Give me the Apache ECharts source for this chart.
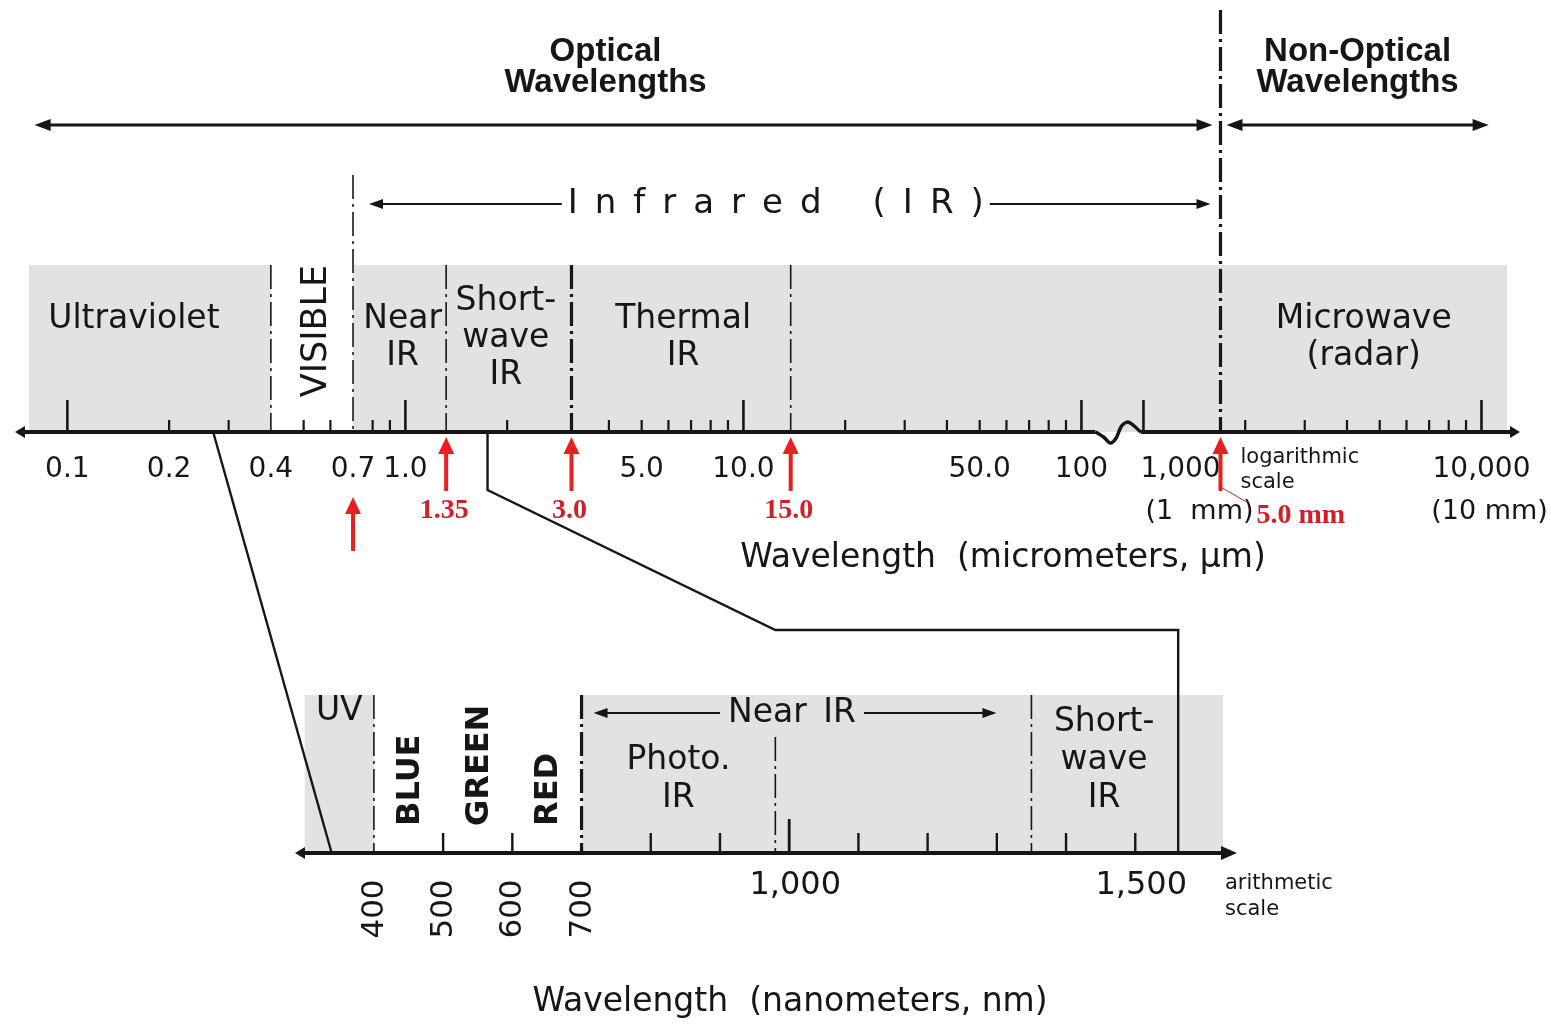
<!DOCTYPE html>
<html>
<head>
<meta charset="utf-8">
<title>Optical and non-optical wavelengths</title>
<script src="https://cdn.jsdelivr.net/npm/echarts@6/dist/echarts.min.js"></script>
<style>
  html, body { margin: 0; padding: 0; background: #fff; }
  #main { width: 1551px; height: 1024px; }
</style>
</head>
<body>
<div id="main"></div>
<script>
// ---- micrometre scale (logarithmic, 100 - 1,000 um squeezed into a break) ----
var umRange = [0.07, 13000];
var umBreak = [100, 1000];
var umMajorTicks = [0.1, 1, 10, 100, 1000, 10000];
var umMinorTicks = [0.2, 0.3, 0.5, 0.6, 0.8, 0.9, 2, 4, 5, 6, 7, 8, 9,
  20, 30, 40, 50, 60, 70, 80, 90, 2000, 3000, 4000, 5000, 6000, 7000, 8000, 9000];
var umTickValues = [0.1, 0.2, 0.4, 0.7, 1, 5, 10, 50, 100, 1000, 10000];
var umTickLabels = ['0.1', '0.2', '0.4', '0.7', '1.0', '5.0', '10.0', '50.0', '100', '1,000', '10,000'];
var umMmValues = [1000, 10000];
var umMmLabels = ['(1  mm)', '(10 mm)'];
var umShade = [[0.077, 0.4], [0.7, 11900]];
var umRegionEdges = [0.077, 0.4, 0.7, 1.32, 3.1, 13.8, 1690, 11900];
var umRegionNames = ['Ultraviolet', 'VISIBLE', 'Near\nIR', 'Short-\nwave\nIR', 'Thermal\nIR', '', 'Microwave\n(radar)'];
var umBoundaries = [0.4, 0.7, 1.32, 3.1, 13.8, 1690];
var umArrows = [0.7, 1.32, 3.1, 13.8, 1690];
var umArrowLabels = ['', '1.35', '3.0', '15.0', '5.0 mm'];
var opticalSpan = [0.08, 1690];
var nonOpticalSpan = [1690, 10500];
var infraredSpan = [0.7, 1690];

// ---- nanometre scale (arithmetic) ----
var nmRange = [286, 1647];
var nmMajorTicks = [1000];
var nmMinorTicks = [500, 600, 800, 900, 1100, 1200, 1300, 1400, 1500];
var nmTurnedValues = [400, 500, 600, 700];
var nmTurnedLabels = ['400', '500', '600', '700'];
var nmFlatValues = [1000, 1500];
var nmFlatLabels = ['1,000', '1,500'];
var nmShade = [[300, 400], [700, 1627]];
var nmRegionEdges = [300, 400, 500, 600, 700, 980, 1350, 1560];
var nmRegionNames = ['UV', 'BLUE', 'GREEN', 'RED', 'Photo.\nIR', '', 'Short-\nwave\nIR'];
var nmBoundaries = [400, 700, 980, 1350];
var nearIrSpan = [700, 1350];

// ---- zoom links between the two scales ----
var linkLeft = [0.27, 339];          // um on top, nm below
var linkRight = [1.75, 980, 1562];   // um on top, elbow over nm, nm below

// ---- styles ----
var INK = '#161616';
var RED = '#e8201f';
var RED_TEXT = '#d01f26';
var BAND = '#e2e2e2';
var SANS = '"DejaVu Sans", sans-serif';
var DASH = [24, 5, 3, 5];
var UM_BWIDTH = [1.6, 1.6, 1.6, 3.2, 1.6, 3.2];
var UM_RISE = [0, 90, 0, 0, 0, 255];
var UM_LABEL_DX = [-16, 5, 3, -3, 2, 0, 0];
var NM_BWIDTH = [1.6, 3.2, 1.6, 1.6];
var NM_DROP = [0, 0, 42, 0];

// 100..1000 um is drawn as a short gap of 0.18 decade
var SQUEEZE = 1 - 62 / 338;
function u(v) { return v > umBreak[0] ? Math.log10(v) - SQUEEZE : Math.log10(v); }

function font(size, weight, family) {
  return (weight || 'normal') + ' ' + size + 'px ' + (family || SANS);
}
function line(x1, y1, x2, y2, w, dash, color) {
  return { type: 'line', shape: { x1: x1, y1: y1, x2: x2, y2: y2 },
    style: { stroke: color || INK, lineWidth: w, lineDash: dash || null } };
}
function tri(x, y, dir, len, half, color) {
  var pts;
  if (dir === 'left') pts = [[x, y], [x + len, y - half], [x + len, y + half]];
  else if (dir === 'right') pts = [[x, y], [x - len, y - half], [x - len, y + half]];
  else pts = [[x, y], [x - half, y + len], [x + half, y + len]];
  return { type: 'polygon', shape: { points: pts }, style: { fill: color || INK } };
}
function text(x, y, str, f, o) {
  o = o || {};
  var st = { text: str, font: f, fill: o.fill || INK, align: o.align || 'center',
    verticalAlign: o.vAlign || 'middle' };
  if (o.lineHeight) st.lineHeight = o.lineHeight;
  if (o.bg) { st.backgroundColor = o.bg; st.padding = o.padding || [0, 8]; }
  return { type: 'text', x: x, y: y, rotation: o.rotation || 0, style: st };
}
function dblArrow(g, a, b, y, w, len, half) {
  g.push(line(a + len / 2, y, b - len / 2, y, w));
  g.push(tri(a, y, 'left', len, half));
  g.push(tri(b, y, 'right', len, half));
}

function renderTop(params, api) {
  var xs = function (v) { return api.coord([u(v), 0])[0]; };
  var base = api.coord([0, 0])[1];
  var top = api.coord([0, 1])[1];
  var g = [];

  umShade.forEach(function (s) {
    g.push({ type: 'rect', shape: { x: xs(s[0]), y: top, width: xs(s[1]) - xs(s[0]), height: base - top },
      style: { fill: BAND } });
  });
  umBoundaries.forEach(function (v, i) {
    g.push(line(xs(v), top - UM_RISE[i], xs(v), base, UM_BWIDTH[i], DASH));
  });
  umMajorTicks.forEach(function (v) { g.push(line(xs(v), base, xs(v), base - 32, 2.6)); });
  umMinorTicks.forEach(function (v) { g.push(line(xs(v), base, xs(v), base - 12, 2.2)); });

  // axis line with the break squiggle
  var x0 = xs(umRange[0]), x1 = xs(umRange[1]);
  var b0 = xs(umBreak[0]) + 14, b1 = xs(umBreak[1]) - 3, w = b1 - b0;
  g.push(line(x0 + 6, base, b0, base, 4));
  g.push(line(b1, base, x1 - 6, base, 4));
  g.push({ type: 'polyline', shape: { smooth: 0.3, points: [[b0, base], [b0 + w * 0.18, base + 5],
    [b0 + w * 0.33, base + 11], [b0 + w * 0.46, base + 6], [b0 + w * 0.58, base - 6],
    [b0 + w * 0.72, base - 10], [b0 + w * 0.86, base - 6], [b1, base]] },
    style: { stroke: INK, lineWidth: 3.5, fill: null } });
  g.push(tri(x0, base, 'left', 10, 6));
  g.push(tri(x1, base, 'right', 10, 6));

  // region names
  umRegionNames.forEach(function (name, i) {
    if (!name) return;
    var cx = (xs(umRegionEdges[i]) + xs(umRegionEdges[i + 1])) / 2 + UM_LABEL_DX[i];
    if (i === 1) {
      g.push(text(cx, base - 101, name, font(35), { rotation: Math.PI / 2 }));
    } else {
      var n = name.split('\n').length, lh = 37;
      g.push(text(cx, base - 94 - Math.max(n, 2) * lh / 2, name, font(33), { vAlign: 'top', lineHeight: lh }));
    }
  });

  // tick labels
  umTickValues.forEach(function (v, i) {
    var left = v === umBreak[1];
    g.push(text(xs(v) + (left ? -3 : 0), base + 38, umTickLabels[i], font(28), { align: left ? 'left' : 'center' }));
  });
  umMmValues.forEach(function (v, i) {
    var left = v === umBreak[1];
    g.push(text(xs(v) + (left ? 2 : 8), base + 80, umMmLabels[i], font(27), { align: left ? 'left' : 'center' }));
  });

  // red boundary arrows
  umArrows.forEach(function (v, i) {
    var x = xs(v), tip = umArrowLabels[i] ? base + 5 : base + 65;
    g.push(line(x, tip + 12, x, tip + 54, 4, null, RED));
    g.push(tri(x, tip, 'up', 17, 8, RED));
    var lab = umArrowLabels[i];
    if (!lab) return;
    if (i === umArrows.length - 1) {
      g.push(line(x + 2, base + 56, x + 26, base + 70, 1, null, RED_TEXT));
      g.push(text(x + 36, base + 84, lab, font(28, 'bold', '"Liberation Serif", serif'), { align: 'left', fill: RED_TEXT }));
      g.push(text(x + 20, base + 38, 'logarithmic\nscale', font(21), { align: 'left', lineHeight: 25 }));
    } else {
      g.push(text(x - 2, base + 79, lab, font(28, 'bold', '"Liberation Serif", serif'), { fill: RED_TEXT }));
    }
  });

  // optical / non-optical and infrared spans
  var ya = base - 307;
  var oa = xs(opticalSpan[0]), ob = xs(opticalSpan[1]) - 8;
  var na = xs(nonOpticalSpan[0]) + 6, nb = xs(nonOpticalSpan[1]);
  dblArrow(g, oa, ob, ya, 3, 16, 6);
  dblArrow(g, na, nb, ya, 3, 16, 6);
  g.push(text((oa + ob) / 2 - 18, base - 365, 'Optical\nWavelengths',
    font(33, 'bold', '"Liberation Sans", sans-serif'), { lineHeight: 31 }));
  g.push(text((na + nb) / 2, base - 365, 'Non-Optical\nWavelengths',
    font(33, 'bold', '"Liberation Sans", sans-serif'), { lineHeight: 31 }));

  var yi = base - 228;
  var ia = xs(infraredSpan[0]) + 16, ib = xs(infraredSpan[1]) - 10;
  dblArrow(g, ia, ib, yi, 2, 14, 5);
  var sp = '\u2002';
  g.push(text((ia + ib) / 2 - 14, yi, ['I', 'n', 'f', 'r', 'a', 'r', 'e', 'd'].join(sp) + sp + sp + sp +
    ['(', 'I', 'R', ')'].join(sp), font(34), { bg: '#fff', padding: [0, 6] }));

  return { type: 'group', children: g };
}

function renderBottom(params, api) {
  var xs = function (v) { return api.coord([v, 0])[0]; };
  var base = api.coord([1000, 0])[1];
  var top = api.coord([1000, 1])[1];
  var g = [];

  nmShade.forEach(function (s) {
    g.push({ type: 'rect', shape: { x: xs(s[0]), y: top, width: xs(s[1]) - xs(s[0]), height: base - top },
      style: { fill: BAND } });
  });
  nmBoundaries.forEach(function (v, i) {
    g.push(line(xs(v), top + NM_DROP[i], xs(v), base, NM_BWIDTH[i], DASH));
  });
  nmMajorTicks.forEach(function (v) { g.push(line(xs(v), base, xs(v), base - 34, 2.8)); });
  nmMinorTicks.forEach(function (v) { g.push(line(xs(v), base, xs(v), base - 20, 2.4)); });

  var x0 = xs(nmRange[0]), x1 = xs(nmRange[1]);
  g.push(line(x0 + 6, base, x1 - 10, base, 4));
  g.push(tri(x0, base, 'left', 10, 6));
  g.push(tri(x1, base, 'right', 16, 7));

  nmRegionNames.forEach(function (name, i) {
    if (!name) return;
    var cx = (xs(nmRegionEdges[i]) + xs(nmRegionEdges[i + 1])) / 2;
    if (i >= 1 && i <= 3) {
      g.push(text(cx + 2, base - 27, name, font(32, 'bold'), { rotation: Math.PI / 2, align: 'left' }));
    } else if (i === 0) {
      g.push(text(cx, top + 16, name, font(33)));
    } else {
      g.push(text(cx, base - 36, name, font(33), { vAlign: 'bottom', lineHeight: 38 }));
    }
  });

  nmTurnedValues.forEach(function (v, i) {
    g.push(text(xs(v) + 1, base + 56, nmTurnedLabels[i], font(31), { rotation: Math.PI / 2 }));
  });
  nmFlatValues.forEach(function (v, i) {
    g.push(text(xs(v) + 6, base + 33, nmFlatLabels[i], font(32)));
  });
  g.push(text(x1 - 12, base + 44, 'arithmetic\nscale', font(21), { align: 'left', lineHeight: 26 }));

  var yn = base - 140;
  var na = xs(nearIrSpan[0]) + 12, nb = xs(nearIrSpan[1]) - 35;
  dblArrow(g, na, nb, yn, 2, 14, 5);
  g.push(text((na + nb) / 2 - 3, yn, 'Near\u2002IR', font(33), { bg: BAND, padding: [0, 8] }));

  return { type: 'group', children: g };
}

var chart = echarts.init(document.getElementById('main'));

var option = {
  animation: false,
  backgroundColor: '#fff',
  grid: [
    { left: 15, top: 265, width: 1505, height: 167 },
    { left: 295, top: 695, width: 942, height: 158 }
  ],
  xAxis: [
    { type: 'value', gridIndex: 0, min: u(umRange[0]), max: u(umRange[1]), show: false },
    { type: 'value', gridIndex: 1, min: nmRange[0], max: nmRange[1], show: false }
  ],
  yAxis: [
    { type: 'value', gridIndex: 0, min: 0, max: 1, show: false },
    { type: 'value', gridIndex: 1, min: 0, max: 1, show: false }
  ],
  series: [
    { type: 'custom', xAxisIndex: 0, yAxisIndex: 0, clip: false, silent: true,
      data: [[0, 0.5]], renderItem: renderTop },
    { type: 'custom', xAxisIndex: 1, yAxisIndex: 1, clip: false, silent: true,
      data: [[1000, 0.5]], renderItem: renderBottom }
  ]
};

chart.setOption(option);

// links from the micrometre scale down to the nanometre window
function pTop(v, y) { return chart.convertToPixel({ gridIndex: 0 }, [u(v), y || 0]); }
function pBot(v, y) { return chart.convertToPixel({ gridIndex: 1 }, [v, y || 0]); }

var l0 = pTop(linkLeft[0]), l1 = pBot(linkLeft[1]);
var r0 = pTop(linkRight[0]);
var elbowY = pBot(linkRight[1], 1)[1] - 65;
var r3 = pBot(linkRight[2]);
var rElbow = pBot(linkRight[1])[0];

chart.setOption({
  graphic: [
    { type: 'line', z: 100, shape: { x1: l0[0], y1: l0[1], x2: l1[0], y2: l1[1] },
      style: { stroke: INK, lineWidth: 2.4 } },
    { type: 'polyline', z: 100, shape: { points: [[r0[0], r0[1]], [r0[0], r0[1] + 58], [rElbow, elbowY],
      [r3[0], elbowY], [r3[0], r3[1]]] }, style: { stroke: INK, lineWidth: 2.4, fill: null } },
    { type: 'text', z: 100, x: 1003, y: 558, style: { text: 'Wavelength  (micrometers, \u00b5m)',
      font: font(33), fill: INK, align: 'center', verticalAlign: 'middle' } },
    { type: 'text', z: 100, x: 790, y: 1002, style: { text: 'Wavelength  (nanometers, nm)',
      font: font(33), fill: INK, align: 'center', verticalAlign: 'middle' } }
  ]
});
</script>
</body>
</html>
